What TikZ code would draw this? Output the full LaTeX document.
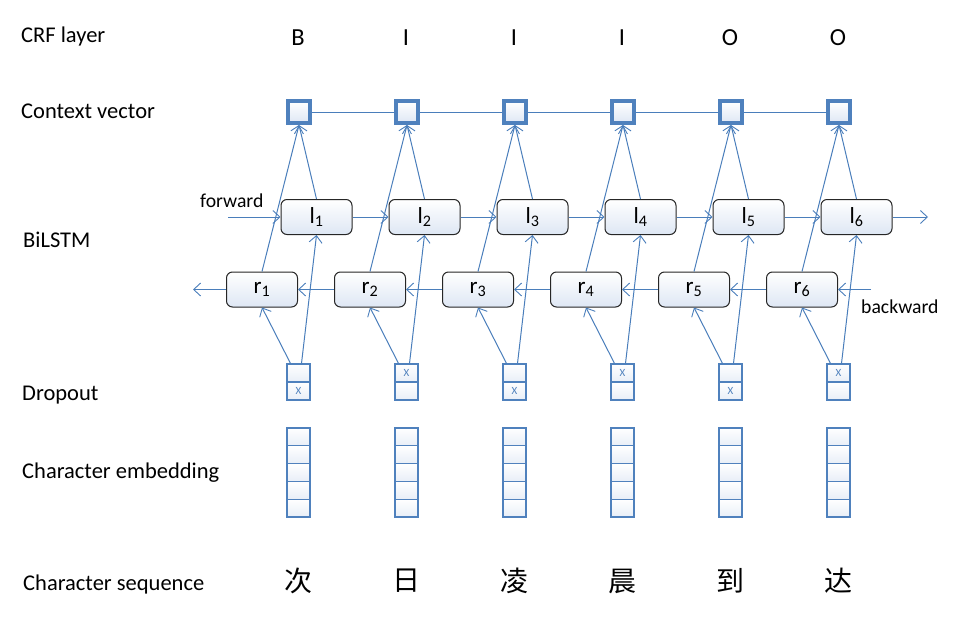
\documentclass[tikz,border=0pt]{standalone}
\usepackage{fontspec}
\setmainfont{Carlito}
\newfontfamily\cjk{Noto Sans CJK SC}
\usetikzlibrary{arrows.meta}
\definecolor{lineblue}{RGB}{74,126,187}
\definecolor{sqblue}{RGB}{79,129,189}
\definecolor{fillblue}{RGB}{222,231,244}
\tikzset{
  arr/.style={draw=lineblue, line width=1pt, -{Straight Barb[length=7pt,width=13pt,line width=0.9pt]}},
  plain/.style={draw=lineblue, line width=1pt},
  lstm/.style={draw=black!85, line width=1pt, rounded corners=6pt, top color=white, bottom color=fillblue,
    minimum width=71pt, minimum height=35pt, inner sep=0pt, font=\fontsize{23}{25}\selectfont},
  ctx/.style={draw=sqblue, line width=4pt, top color=white, bottom color=fillblue, minimum size=22pt, inner sep=0pt},
  cell/.style={draw=sqblue, line width=1.2pt, top color=white, bottom color=fillblue!70, minimum width=23pt,
    minimum height=18pt, inner sep=0pt, text=sqblue, font=\fontsize{11}{12}\selectfont},
  lab/.style={anchor=base west, inner sep=0pt, font=\fontsize{22.5}{26}\selectfont},
  dirlab/.style={anchor=base west, inner sep=0pt, font=\fontsize{19.7}{22}\selectfont},
  tag/.style={anchor=base, inner sep=0pt, font=\fontsize{24.5}{28}\selectfont},
  hanzi/.style={anchor=center, font=\cjk\fontsize{28}{32}\selectfont}
}
\begin{document}
\begin{tikzpicture}[x=1pt,y=-1pt]
\useasboundingbox (0,0) rectangle (956,635);
% left labels
\node[lab] (labcrf) at (21,42) {CRF layer};
\node[lab] (labctx) at (21,118) {Context vector};
\node[lab] (labbi) at (23,247) {BiLSTM};
\node[lab] (labdrop) at (22,400) {Dropout};
\node[lab] (labemb) at (22,478) {Character embedding};
\node[lab] (labseq) at (23,590) {Character sequence};
\node[dirlab] (fwlab) at (200,207) {forward};
\node[dirlab] (bwlab) at (861,313) {backward};
% columns
\foreach \i/\tg/\hz/\ta/\tb in {1/B/次/{}/X, 2/I/日/X/{}, 3/I/凌/{}/X, 4/I/晨/X/{}, 5/O/到/{}/X, 6/O/达/X/{}} {
  \pgfmathsetmacro\d{108*(\i-1)}
  \node[tag] (t\i) at (298+\d,45) {\tg};
  \node[ctx] (sq\i) at (299+\d,112) {};
  \node[lstm] (l\i) at (316.5+\d,217) {l\textsubscript{\i}};
  \node[lstm] (r\i) at (262+\d,289.5) {r\textsubscript{\i}};
  \node[cell] (da\i) at (298.5+\d,373) {\ta};
  \node[cell] (db\i) at (298.5+\d,391) {\tb};
  \foreach \j in {1,...,5} {
    \node[cell, minimum height=17.8pt] (e\i-\j) at (298.5+\d,428+8.9+17.8*\j-17.8) {};
  }
  \node[hanzi] (c\i) at (298.5+\d,581) {\hz};
  \draw[arr] ([xshift=-8pt]da\i.north) -- (r\i.south);
  \draw[arr] ([xshift=3pt]da\i.north) -- (l\i.south);
  \draw[arr] (r\i.north) -- (sq\i.south);
  \draw[arr] (l\i.north) -- (sq\i.south);
}
\foreach \i in {1,...,5} {
  \pgfmathtruncatemacro\j{\i+1}
  \draw[arr] (l\i.east) -- (l\j.west);
  \draw[arr] (r\j.west) -- (r\i.east);
  \draw[plain] (sq\i.east) -- (sq\j.west);
}
\coordinate (fin) at (228,217);
\coordinate (fout) at (928,217);
\coordinate (bin) at (871,289.5);
\coordinate (bout) at (193,289.5);
\draw[arr] (fin) -- (l1.west);
\draw[arr] (l6.east) -- (fout);
\draw[arr] (bin) -- (r6.east);
\draw[arr] (r1.west) -- (bout);
\end{tikzpicture}
\end{document}
